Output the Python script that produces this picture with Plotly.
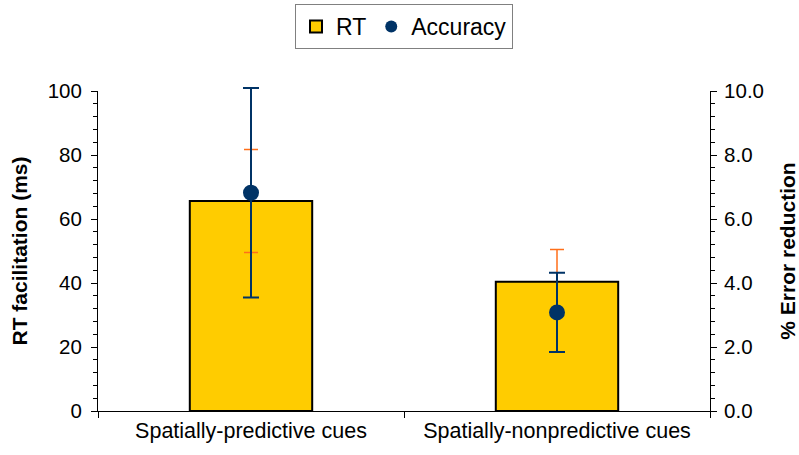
import plotly.graph_objects as go

categories = ["Spatially-predictive cues", "Spatially-nonpredictive cues"]
rt_values = [65.6, 40.4]
rt_errors = [16.1, 10.1]
acc_values = [6.82, 3.08]
acc_errors = [3.27, 1.24]

# plot area: top 80, axes top at 91, bottom at 411
TOP, AX_TOP, BOTTOM = 80, 91, 411
H = BOTTOM - TOP
D = (BOTTOM - AX_TOP) / H

fig = go.Figure()
fig.add_trace(go.Bar(
    x=categories, y=rt_values, name="RT", width=0.4,
    marker=dict(color="#FFCC00", line=dict(color="black", width=2)),
    error_y=dict(type="data", array=rt_errors, visible=True, color="#FF6F1A",
                 thickness=1.5, width=7),
))
fig.add_trace(go.Scatter(
    x=categories, y=acc_values, name="Accuracy", mode="markers", yaxis="y3",
    cliponaxis=False,
    marker=dict(color="#003366", size=16),
    error_y=dict(type="data", array=acc_errors, visible=True, color="#003366",
                 thickness=2, width=8),
))
# invisible anchor so y2 axis renders
fig.add_trace(go.Scatter(x=categories, y=acc_values, yaxis="y2", mode="markers",
                         marker=dict(opacity=0), showlegend=False, hoverinfo="skip"))

font = dict(family="Liberation Sans, Arial, sans-serif", size=20, color="black")
fig.update_layout(
    template="none",
    width=799, height=455,
    margin=dict(l=98, r=89, t=TOP, b=455 - BOTTOM, autoexpand=False),
    paper_bgcolor="white", plot_bgcolor="rgba(0,0,0,0)",
    font=font,
    showlegend=True,
    legend=dict(orientation="h", x=0.5, xanchor="center",
                y=1 + (TOP - 49) / H, yanchor="bottom",
                bordercolor="#808080", borderwidth=1, bgcolor="white",
                font=dict(size=23), itemsizing="constant", itemwidth=30,
                tracegroupgap=0),
    xaxis=dict(type="category", showline=True, linecolor="black", linewidth=1,
               ticks="outside", tickson="boundaries", ticklen=6, tickcolor="black",
               tickfont=dict(size=21.5), range=[-0.5, 1.5], automargin=False,
               showgrid=False),
    yaxis=dict(range=[0, 100], dtick=20, domain=[0, D], showline=True, linecolor="black",
               ticks="outside", ticklen=6, tickcolor="black", showgrid=False,
               zeroline=False, automargin=False, ticklabelstandoff=5,
               minor=dict(dtick=4, ticks="outside", ticklen=4, tickcolor="black"),
               title=dict(text="<b>RT facilitation (ms)</b>", font=dict(size=21), standoff=14),
               tickfont=dict(size=20.5)),
    yaxis2=dict(range=[0, 10], dtick=2, overlaying="y", side="right", showline=True,
                linecolor="black", ticks="outside", ticklen=6, tickcolor="black",
                showgrid=False, zeroline=False, tickformat=".1f", automargin=False,
                ticklabelstandoff=3,
                minor=dict(dtick=0.4, ticks="outside", ticklen=4, tickcolor="black"),
                title=dict(text="<b>% Error reduction</b>", font=dict(size=21), standoff=17),
                tickfont=dict(size=20.5)),
    yaxis3=dict(range=[0, 10 / D], domain=[0, 1], anchor="x", visible=False,
                showgrid=False, zeroline=False, automargin=False),
)
fig.write_html("out.html", config={"displayModeBar": False},
               post_script="document.body.style.margin='0';")
